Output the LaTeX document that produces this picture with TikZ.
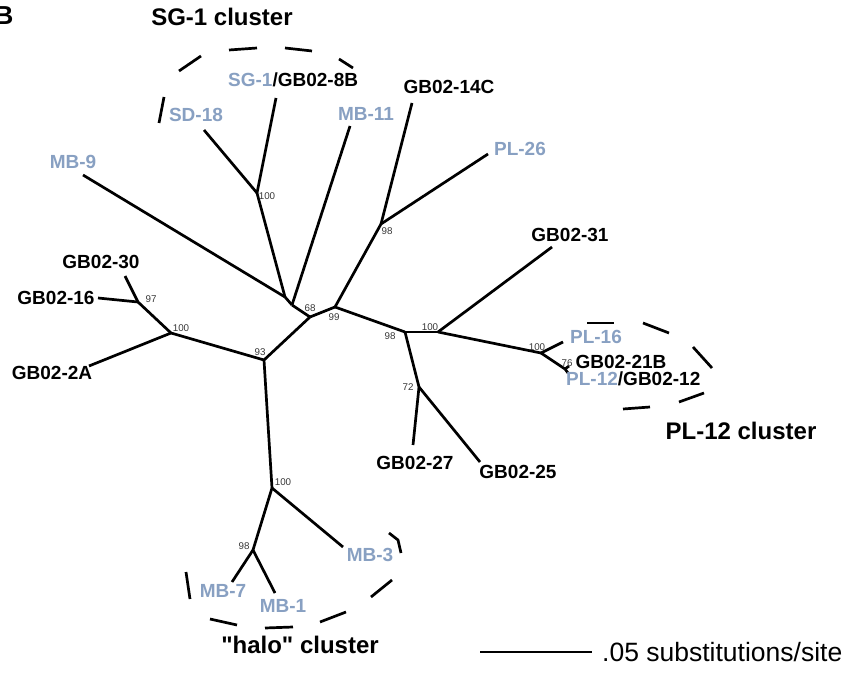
\documentclass[tikz,border=0pt]{standalone}
\usepackage{fontspec}
\setmainfont{Liberation Sans}
\newfontfamily\plainquotefont{Liberation Sans}
\definecolor{lblue}{RGB}{136,160,194}
\definecolor{bootgray}{RGB}{55,55,55}
\begin{document}
\begin{tikzpicture}[x=1pt,y=-1pt,
  branch/.style={line width=2.7pt, line join=round},
  clusterdash/.style={line width=2.7pt},
  leaf/.style={font=\fontsize{19}{22}\selectfont\bfseries, inner sep=0pt},
  bleaf/.style={leaf, text=lblue},
  boot/.style={font=\fontsize{9.8}{11}\selectfont, text=bootgray, inner sep=0pt},
  clabel/.style={font=\fontsize{24}{28}\selectfont\bfseries, inner sep=0pt},
  scaletext/.style={font=\fontsize{26.5}{30}\selectfont, inner sep=0pt}]
\useasboundingbox (0,0) rectangle (858,676);

% panel letter and cluster titles
\node[font=\fontsize{26}{30}\selectfont\bfseries, inner sep=0pt, anchor=east] (panel) at (13.5,15.5) {B};
\node[clabel] (sgtitle) at (222,17) {SG-1 cluster};
\node[clabel] (pltitle) at (741,431) {PL-12 cluster};
\node[clabel] (halotitle) at (300,645) {\plainquotefont\bfseries "halo" cluster};

% tree points
\coordinate (n68a) at (285,297);
\coordinate (n68b) at (292,305);
\coordinate (n68) at (310,317);
\coordinate (n99) at (335,307);
\coordinate (n98a) at (381,224);
\coordinate (e14C) at (412,103);
\coordinate (ePL26) at (488,154);
\coordinate (eMB11) at (350,126);
\coordinate (n100a) at (257,193);
\coordinate (eSD18) at (204,130);
\coordinate (eSG1) at (276,98);
\coordinate (eMB9) at (83,175);
\coordinate (n93) at (264,360);
\coordinate (n100L) at (171,333);
\coordinate (n97) at (138,302);
\coordinate (eGB30) at (125,276);
\coordinate (eGB16) at (98,298);
\coordinate (eGB2A) at (89,366);
\coordinate (n98b) at (405,332);
\coordinate (n100b) at (438,332);
\coordinate (eGB31) at (552,247);
\coordinate (n100c) at (541,353);
\coordinate (ePL16) at (563,342);
\coordinate (n76) at (565,369);
\coordinate (eGB21B) at (569,366);
\coordinate (ePL12) at (568,373);
\coordinate (n72) at (419,387);
\coordinate (eGB27) at (413,445);
\coordinate (eGB25) at (480,462);
\coordinate (n100d) at (272,488);
\coordinate (n98d) at (253,550);
\coordinate (eMB3) at (343,547);
\coordinate (eMB7) at (232,582);
\coordinate (eMB1) at (275,593);

% branches
\draw[branch] (eMB9) -- (n68a);
\draw[branch] (n100a) -- (n68a);
\draw[branch] (n68a) -- (n68b);
\draw[branch] (eMB11) -- (n68b);
\draw[branch] (n68b) -- (n68);
\draw[branch] (n68) -- (n99);
\draw[branch] (n68) -- (n93);
\draw[branch] (n99) -- (n98a);
\draw[branch] (n98a) -- (e14C);
\draw[branch] (n98a) -- (ePL26);
\draw[branch] (n99) -- (n98b);
\draw[branch] (n98b) -- (n100b);
\draw[branch] (n100b) -- (eGB31);
\draw[branch] (n100b) -- (n100c);
\draw[branch] (n100c) -- (ePL16);
\draw[branch] (n100c) -- (n76);
\draw[branch] (n76) -- (eGB21B);
\draw[branch] (n76) -- (ePL12);
\draw[branch] (n98b) -- (n72);
\draw[branch] (n72) -- (eGB27);
\draw[branch] (n72) -- (eGB25);
\draw[branch] (n93) -- (n100L);
\draw[branch] (n100L) -- (n97);
\draw[branch] (n97) -- (eGB30);
\draw[branch] (n97) -- (eGB16);
\draw[branch] (n100L) -- (eGB2A);
\draw[branch] (n93) -- (n100d);
\draw[branch] (n100d) -- (n98d);
\draw[branch] (n98d) -- (eMB7);
\draw[branch] (n98d) -- (eMB1);
\draw[branch] (n100d) -- (eMB3);
\draw[branch] (n100a) -- (eSD18);
\draw[branch] (n100a) -- (eSG1);

% leaf labels
\node[leaf, anchor=west] (lSG1) at (228,80) {\textcolor{lblue}{SG-1}/GB02-8B};
\node[bleaf] (lSD18) at (196,115) {SD-18};
\node[bleaf] (lMB11) at (366,114) {MB-11};
\node[bleaf] (lMB9) at (73,162) {MB-9};
\node[leaf] (l14C) at (449,87) {GB02-14C};
\node[bleaf] (lPL26) at (520,149) {PL-26};
\node[leaf] (lGB31) at (570,235) {GB02-31};
\node[leaf] (lGB30) at (101,262) {GB02-30};
\node[leaf] (lGB16) at (56,298) {GB02-16};
\node[leaf] (lGB2A) at (52,373) {GB02-2A};
\node[bleaf] (lPL16) at (596,337) {PL-16};
\node[leaf] (lGB21B) at (621,362) {GB02-21B};
\node[leaf, anchor=west] (lPL12) at (566,379) {\textcolor{lblue}{PL-12}/GB02-12};
\node[leaf] (lGB27) at (415,463) {GB02-27};
\node[leaf] (lGB25) at (518,472) {GB02-25};
\node[bleaf] (lMB3) at (370,555) {MB-3};
\node[bleaf] (lMB7) at (223,591) {MB-7};
\node[bleaf] (lMB1) at (283,606) {MB-1};

% bootstrap values
\node[boot] (b100a) at (267,196) {100};
\node[boot] (b98a) at (387,231) {98};
\node[boot] (b97) at (151,299) {97};
\node[boot] (b100L) at (181,328) {100};
\node[boot] (b93) at (260,352) {93};
\node[boot] (b68) at (310,308) {68};
\node[boot] (b99) at (334,317) {99};
\node[boot] (b98b) at (390,336) {98};
\node[boot] (b100b) at (430,327) {100};
\node[boot] (b100c) at (537,347) {100};
\node[boot] (b76) at (567,363) {76};
\node[boot] (b72) at (408,387) {72};
\node[boot] (b100d) at (283,482) {100};
\node[boot] (b98d) at (244,546) {98};

% cluster outlines (dashes)
\draw[clusterdash] (159,123) -- (164,97);
\draw[clusterdash] (179,71) -- (201,56);
\draw[clusterdash] (229,50) -- (257,48);
\draw[clusterdash] (285,48) -- (312,51);
\draw[clusterdash] (339,59) -- (353,68);

\draw[clusterdash] (587,323) -- (614,323);
\draw[clusterdash] (643,323) -- (669,333);
\draw[clusterdash] (693,347) -- (712,368);
\draw[clusterdash] (704,393) -- (679,402);
\draw[clusterdash] (650,407) -- (623,409);

\draw[clusterdash] (186,572) -- (190,599);
\draw[clusterdash] (210,619) -- (237,625);
\draw[clusterdash] (265,628) -- (293,627);
\draw[clusterdash] (320,622) -- (346,612);
\draw[clusterdash] (371,597) -- (392,580);
\draw[clusterdash, line join=round] (389,533) -- (398,540) -- (401,553);

% scale bar
\coordinate (sbL) at (480,652);
\coordinate (sbR) at (592,652);
\draw[line width=2.2pt] (sbL) -- (sbR);
\node[scaletext, anchor=west] (sbtext) at (602,652) {.05 substitutions/site};
\end{tikzpicture}
\end{document}
